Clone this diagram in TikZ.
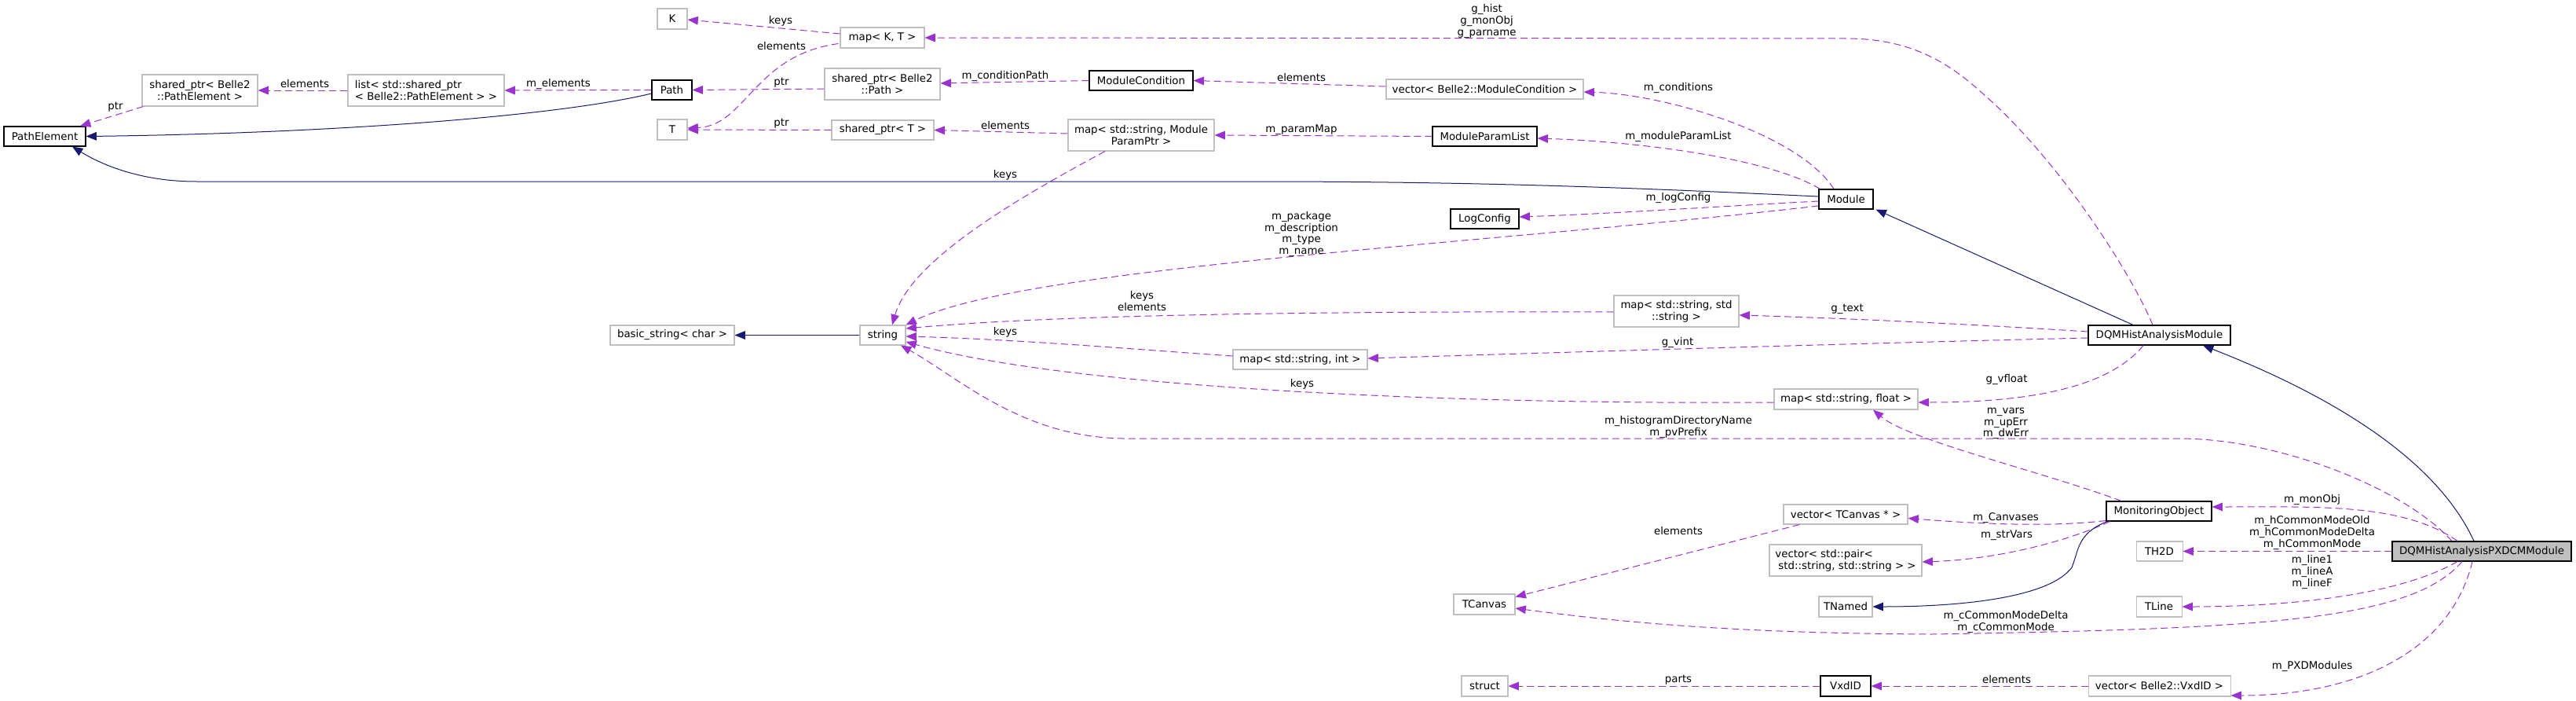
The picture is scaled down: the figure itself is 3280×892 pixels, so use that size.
\documentclass[tikz,border=0pt]{standalone}
\usepackage{fontspec}
\setmainfont{DejaVu Sans}
\usetikzlibrary{arrows.meta,calc}
\definecolor{edgep}{HTML}{9A32CD}
\definecolor{edgeb}{HTML}{191970}
\definecolor{gborder}{HTML}{BFBFBF}
\definecolor{gfill}{HTML}{BFBFBF}
\begin{document}
\begin{tikzpicture}[x=0.75pt,y=-0.75pt,
  every node/.style={font=\fontsize{10}{11}\selectfont, inner sep=0pt},
  gbox/.style={draw=gborder, line width=0.8pt, fill=white, align=center},
  kbox/.style={draw=black, line width=0.85pt, fill=white, align=center},
  lbl/.style={align=center},
  dep/.style={draw=edgep, line width=0.75pt, dash pattern=on 6.75pt off 3.75pt, -{Triangle[length=10pt,width=8pt]}},
  inh/.style={draw=edgeb, line width=0.75pt, -{Triangle[length=10pt,width=8pt]}},
]
\useasboundingbox (0,0) rectangle (3280,892);

% ---------- nodes ----------
\node[kbox, minimum width=78pt, minimum height=18.75pt] (PathElement) at (57,173.5) {PathElement};
\node[gbox, minimum width=110.25pt, minimum height=30pt] (sppe) at (254.5,115) {shared\_ptr< Belle2\\::PathElement >};
\node[gbox, align=left, minimum width=149.25pt, minimum height=30pt] (lst) at (542.5,115) {list< std::shared\_ptr\\< Belle2::PathElement > >};
\node[kbox, minimum width=38.25pt, minimum height=18.75pt] (Path) at (855.5,114.5) {Path};
\node[gbox, minimum width=28.5pt, minimum height=19.5pt] (K) at (856,24) {K};
\node[gbox, minimum width=80.25pt, minimum height=19.5pt] (mapKT) at (1123.5,48) {map< K, T >};
\node[gbox, minimum width=28.5pt, minimum height=19.5pt] (T) at (856,165) {T};
\node[gbox, minimum width=110.25pt, minimum height=30pt] (sppath) at (1123.5,107) {shared\_ptr< Belle2\\::Path >};
\node[gbox, minimum width=97.5pt, minimum height=18.75pt] (spT) at (1124,165.5) {shared\_ptr< T >};
\node[kbox, minimum width=99pt, minimum height=18.75pt] (MC) at (1453,102.5) {ModuleCondition};
\node[gbox, minimum width=139.5pt, minimum height=30pt] (mapMP) at (1453,172) {map< std::string, Module\\ParamPtr >};
\node[gbox, minimum width=188.25pt, minimum height=18.75pt] (vecMC) at (1890.5,113.5) {vector< Belle2::ModuleCondition >};
\node[kbox, minimum width=99.75pt, minimum height=18.75pt] (MPL) at (1890.5,173.5) {ModuleParamList};
\node[kbox, minimum width=65.25pt, minimum height=18.75pt] (LogConfig) at (1890.5,278.5) {LogConfig};
\node[kbox, minimum width=51.75pt, minimum height=18.75pt] (Module) at (2350.5,253.5) {Module};
\node[gbox, minimum width=118.5pt, minimum height=18.75pt] (bstr) at (856,426.5) {basic\_string< char >};
\node[gbox, minimum width=43.5pt, minimum height=18.75pt] (str) at (1124,426.5) {string};
\node[gbox, minimum width=119.25pt, minimum height=30pt] (mapSS) at (2134.5,396) {map< std::string, std\\::string >};
\node[gbox, minimum width=128.25pt, minimum height=18.75pt] (mapSI) at (1655.5,457.5) {map< std::string, int >};
\node[gbox, minimum width=137.25pt, minimum height=19.5pt] (mapSF) at (2350.5,508) {map< std::string, float >};
\node[kbox, minimum width=135.75pt, minimum height=18.75pt] (DQMH) at (2749.5,426.5) {DQMHistAnalysisModule};
\node[gbox, minimum width=118.5pt, minimum height=18.75pt] (vecTC) at (2350,654.5) {vector< TCanvas * >};
\node[gbox, align=left, minimum width=145.5pt, minimum height=30pt] (vecPair) at (2350,713) {vector< std::pair<\\\hspace*{3pt}std::string, std::string > >};
\node[gbox, minimum width=51pt, minimum height=19.5pt] (TNamed) at (2350,772) {TNamed};
\node[kbox, minimum width=48pt, minimum height=19.5pt] (VxdID) at (2350,873) {VxdID};
\node[gbox, minimum width=58.5pt, minimum height=19.5pt] (TCanvas) at (1890,769) {TCanvas};
\node[gbox, minimum width=44.25pt, minimum height=19.5pt] (struct) at (1890.5,873) {struct};
\node[kbox, minimum width=100.5pt, minimum height=18.75pt] (MO) at (2749,650.5) {MonitoringObject};
\node[gbox, minimum width=44.25pt, minimum height=18.75pt] (TH2D) at (2749.5,701.5) {TH2D};
\node[gbox, minimum width=43.5pt, minimum height=19.5pt] (TLine) at (2749,772) {TLine};
\node[gbox, minimum width=135.75pt, minimum height=19.5pt] (vecVxd) at (2749.5,873) {vector< Belle2::VxdID >};
\node[kbox, fill=gfill, minimum width=171pt, minimum height=18.75pt] (PXDCM) at (3160,701.5) {DQMHistAnalysisPXDCMModule};

% ---------- usage (dashed) edges ----------
\draw[dep] ($(sppe.south west)+(2,0)$) -- ($(PathElement.north)+(45,0)$);
\draw[dep] (lst.west) -- (sppe.east);
\draw[dep] (Path.west) -- (lst.east);
\draw[dep] ($(mapKT.west)+(0,-5)$) -- ($(K.east)+(0,1)$);
\draw[dep] ($(mapKT.south west)+(-2,-6)$) .. controls (960,70) and (950,160) .. ($(T.east)+(0,-2)$);
\draw[dep] ($(sppath.west)+(0,6)$) -- (Path.east);
\draw[dep] (spT.west) -- (T.east);
\draw[dep] (MC.west) -- ($(sppath.east)+(0,-1)$);
\draw[dep] ($(mapMP.west)+(0,-2)$) -- (spT.east);
\draw[dep] (MPL.west) -- (mapMP.east);
\draw[dep] ($(vecMC.west)+(0,-3.5)$) -- (MC.east);
\draw[dep] ($(Module.north)+(-15.5,0)$) .. controls (2290,170) and (2120,120) .. ($(vecMC.east)+(0,3.5)$);
\draw[dep] ($(Module.north west)+(2,0)$) .. controls (2250,200) and (2080,180) .. ($(MPL.east)+(0,2.5)$);
\draw[dep] ($(Module.west)+(0,2.5)$) .. controls (2200,262) and (2050,272) .. ($(LogConfig.east)+(0,-2.5)$);
\draw[dep] ($(Module.west)+(0,8.5)$) .. controls (1900,310) and (1300,340) .. (str.north east);
\draw[dep] ($(mapMP.south)+(-46,0)$) .. controls (1300,250) and (1160,330) .. ($(str.north)+(12,0)$);
\draw[dep] ($(mapSS.west)+(0,1)$) .. controls (1700,396) and (1350,400) .. ($(str.east)+(0,-8.5)$);
\draw[dep] ($(mapSI.west)+(0,-4.5)$) .. controls (1450,445) and (1300,432) .. ($(str.east)+(0,1.5)$);
\draw[dep] ($(mapSF.west)+(0,4)$) .. controls (1800,515) and (1350,490) .. ($(str.east)+(0,8.5)$);
\draw[dep] ($(PXDCM.north)+(-38,0)$) .. controls (3060,620) and (2900,558) .. (2774,558) -- (1430,558) .. controls (1300,556) and (1220,480) .. ($(str.south)+(23,0)$);
\draw[dep] ($(DQMH.north)+(-8.5,0)$) .. controls (2715,350) and (2620,200) .. (2520,115) .. controls (2470,70) and (2420,49) .. (2350,49) -- (mapKT.east);
\draw[dep] ($(DQMH.west)+(0,-4.5)$) .. controls (2500,412) and (2350,405) .. ($(mapSS.east)+(0,5)$);
\draw[dep] ($(DQMH.west)+(0,3.5)$) .. controls (2400,436) and (2000,448) .. ($(mapSI.east)+(0,-1.5)$);
\draw[dep] ($(DQMH.south)+(-20.5,0)$) .. controls (2680,500) and (2560,512) .. ($(mapSF.east)+(0,4)$);
\draw[dep] ($(MO.north)+(-48,0)$) .. controls (2600,600) and (2430,560) .. ($(mapSF.south)+(34.5,0)$);
\draw[dep] ($(MO.west)+(0,12)$) .. controls (2600,672) and (2500,665) .. ($(vecTC.east)+(0,5)$);
\draw[dep] ($(MO.south west)+(5,0)$) .. controls (2630,690) and (2540,712) .. ($(vecPair.east)+(0,2)$);
\draw[dep] ($(PXDCM.north)+(-31,0)$) .. controls (3060,640) and (2950,645) .. ($(MO.east)+(0,-5.5)$);
\draw[dep] (PXDCM.west) -- (TH2D.east);
\draw[dep] ($(PXDCM.south)+(-31,0)$) .. controls (3050,760) and (2900,772) .. (TLine.east);
\draw[dep] ($(PXDCM.south)+(-25,0)$) .. controls (3070,790) and (2880,800) .. (2460,807) .. controls (2200,806) and (2050,790) .. ($(TCanvas.east)+(0,5)$);
\draw[dep] ($(PXDCM.south)+(-12,0)$) .. controls (3120,830) and (3000,885) .. ($(vecVxd.east)+(0,12)$);
\draw[dep] (vecVxd.west) -- (VxdID.east);
\draw[dep] (VxdID.west) -- (struct.east);
\draw[dep] ($(vecTC.south west)+(21,0)$) -- ($(TCanvas.north east)+(0,4)$);

% ---------- inheritance (solid) edges ----------
\draw[inh] ($(Path.west)+(0,4.5)$) .. controls (700,150) and (400,170) .. (PathElement.east);
\draw[inh] ($(Module.west)+(0,-3.5)$) .. controls (2100,240) and (1900,231) .. (1600,231) -- (250,231) .. controls (180,231) and (130,210) .. ($(PathElement.south)+(35,0)$);
\draw[inh] (str.west) -- (bstr.east);
\draw[inh] ($(DQMH.north)+(-33.5,0)$) -- ($(Module.south east)+(3,0)$);
\draw[inh] ($(PXDCM.north)+(-10,0)$) .. controls (3100,580) and (2960,500) .. ($(DQMH.south)+(55.5,0)$);
\draw[inh] ($(MO.south west)+(2,0)$) .. controls (2645,678) and (2647,700) .. (2638,722) .. controls (2610,760) and (2500,772) .. (TNamed.east);

% ---------- labels ----------
\node[lbl] (l1) at (147,136) {ptr};
\node[lbl] (l2) at (388,107) {elements};
\node[lbl] (l3) at (711,107) {m\_elements};
\node[lbl] (l4) at (994,27) {keys};
\node[lbl] (l5) at (995,59) {elements};
\node[lbl] (l6) at (995,105) {ptr};
\node[lbl] (l7) at (995,157) {ptr};
\node[lbl] (l8) at (1280,97) {m\_conditionPath};
\node[lbl] (l9) at (1280,160) {elements};
\node[lbl] (l10) at (1280,223) {keys};
\node[lbl] (l11) at (1657,165) {m\_paramMap};
\node[lbl] (l12) at (1657,99) {elements};
\node[lbl] (l13) at (1893,27) {g\_hist\\g\_monObj\\g\_parname};
\node[lbl] (l14) at (2137,112) {m\_conditions};
\node[lbl] (l15) at (2137,174) {m\_moduleParamList};
\node[lbl] (l16) at (2137,252) {m\_logConfig};
\node[lbl] (l17) at (1657,298) {m\_package\\m\_description\\m\_type\\m\_name};
\node[lbl] (l18) at (1454,383) {keys\\elements};
\node[lbl] (l19) at (1280,423) {keys};
\node[lbl] (l20) at (2352,393) {g\_text};
\node[lbl] (l21) at (2136,436) {g\_vint};
\node[lbl] (l22) at (1658,489) {keys};
\node[lbl] (l23) at (2137,543.5) {m\_histogramDirectoryName\\m\_pvPrefix};
\node[lbl] (l24) at (2555,483) {g\_vfloat};
\node[lbl] (l25) at (2554,539) {m\_vars\\m\_upErr\\m\_dwErr};
\node[lbl] (l26) at (2554,659) {m\_Canvases};
\node[lbl] (l27) at (2555,681) {m\_strVars};
\node[lbl] (l28) at (2944,636) {m\_monObj};
\node[lbl] (l29) at (2944,678) {m\_hCommonModeOld\\m\_hCommonModeDelta\\m\_hCommonMode};
\node[lbl] (l30) at (2944,728) {m\_line1\\m\_lineA\\m\_lineF};
\node[lbl] (l31) at (2554,791.5) {m\_cCommonModeDelta\\m\_cCommonMode};
\node[lbl] (l32) at (2944,848) {m\_PXDModules};
\node[lbl] (l33) at (2555,865) {elements};
\node[lbl] (l34) at (2137,865) {parts};
\node[lbl] (l35) at (2137,676) {elements};
\end{tikzpicture}
\end{document}
